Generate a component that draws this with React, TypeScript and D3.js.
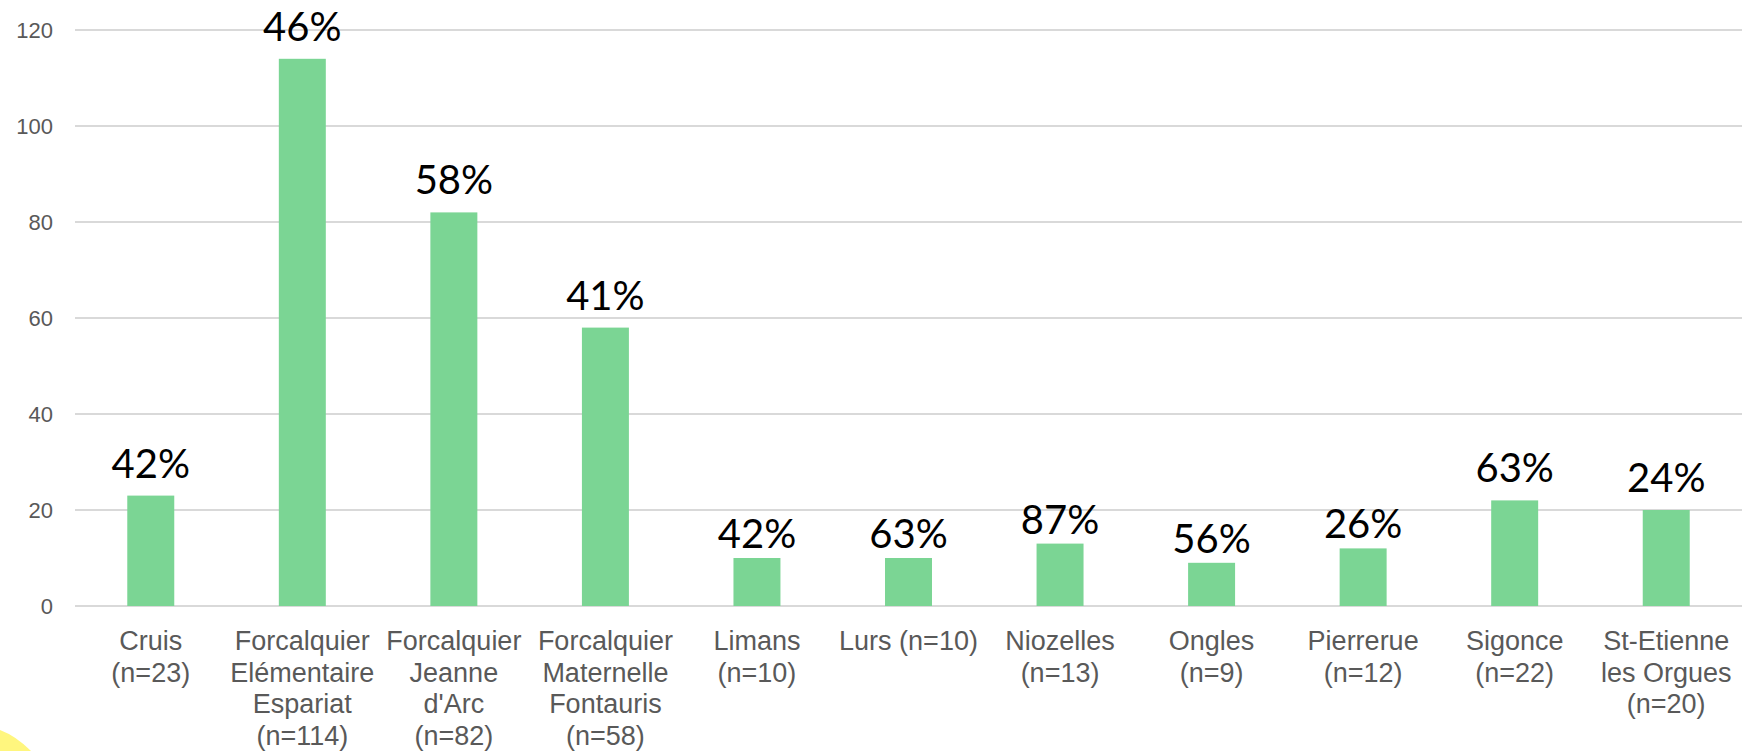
import * as d3 from 'd3';

const WIDTH = 1747;
const HEIGHT = 751;
const MARGIN = { top: 30, right: 5, bottom: 145, left: 75 };

const categories = [
  'Cruis (n=23)',
  'Forcalquier Elémentaire Espariat (n=114)',
  "Forcalquier Jeanne d'Arc (n=82)",
  'Forcalquier Maternelle Fontauris (n=58)',
  'Limans (n=10)',
  'Lurs (n=10)',
  'Niozelles (n=13)',
  'Ongles (n=9)',
  'Pierrerue (n=12)',
  'Sigonce (n=22)',
  'St-Etienne les Orgues (n=20)',
];

const labelLines = [
  ['Cruis', '(n=23)'],
  ['Forcalquier', 'Elémentaire', 'Espariat', '(n=114)'],
  ['Forcalquier', 'Jeanne', "d'Arc", '(n=82)'],
  ['Forcalquier', 'Maternelle', 'Fontauris', '(n=58)'],
  ['Limans', '(n=10)'],
  ['Lurs (n=10)'],
  ['Niozelles', '(n=13)'],
  ['Ongles', '(n=9)'],
  ['Pierrerue', '(n=12)'],
  ['Sigonce', '(n=22)'],
  ['St-Etienne', 'les Orgues', '(n=20)'],
];

const counts = [23, 114, 82, 58, 10, 10, 13, 9, 12, 22, 20];
const percents = [42, 46, 58, 41, 42, 63, 87, 56, 26, 63, 24];
const yTicks = [0, 20, 40, 60, 80, 100, 120];

// labels over the short bars sit closer to the bar in the original
const tightLabels = new Set([
  'Limans (n=10)',
  'Lurs (n=10)',
  'Niozelles (n=13)',
  'Ongles (n=9)',
  'Pierrerue (n=12)',
]);

export default function App() {
  const innerWidth = WIDTH - MARGIN.left - MARGIN.right;
  const innerHeight = HEIGHT - MARGIN.top - MARGIN.bottom;

  const x = d3.scaleBand().domain(categories).range([0, innerWidth]).paddingInner(0.69).paddingOuter(0.345);
  const y = d3.scaleLinear().domain([0, 120]).range([innerHeight, 0]);

  return (
    <svg
      width={WIDTH}
      height={HEIGHT}
      style={{ position: 'absolute', left: 0, top: 0, display: 'block', background: '#fff' }}
    >
      <path d={`M0,730 Q16,736 31,${HEIGHT} L0,${HEIGHT} Z`} fill="#fff67e" />
      <g transform={`translate(${MARGIN.left},${MARGIN.top})`}>
        {yTicks.map((t) => (
          <g key={t} transform={`translate(0,${y(t)})`}>
            <line x1={0} x2={innerWidth} stroke="#d9d9d9" strokeWidth={2} />
            <text
              x={-22}
              dy="0.36em"
              textAnchor="end"
              fill="#595959"
              fontFamily="'Liberation Sans', Arial, sans-serif"
              fontSize={22}
            >
              {t}
            </text>
          </g>
        ))}
        {categories.map((c, i) => {
          const bx = x(c) ?? 0;
          const cx = bx + x.bandwidth() / 2;
          const top = y(counts[i]);
          const gap = tightLabels.has(c) ? 10 : 18;
          return (
            <g key={c}>
              <rect x={bx} y={top} width={x.bandwidth()} height={innerHeight - top} fill="#7bd594" />
              <text
                x={cx}
                y={top - gap}
                textAnchor="middle"
                fill="#000"
                fontFamily="Lato, 'Open Sans', sans-serif"
                fontSize={40}
              >
                {percents[i]}%
              </text>
              <text
                textAnchor="middle"
                fill="#595959"
                fontFamily="'Liberation Sans', Arial, sans-serif"
                fontSize={27}
              >
                {labelLines[i].map((line, j) => (
                  <tspan key={j} x={cx} y={innerHeight + 44 + j * 31.5}>
                    {line}
                  </tspan>
                ))}
              </text>
            </g>
          );
        })}
      </g>
    </svg>
  );
}
